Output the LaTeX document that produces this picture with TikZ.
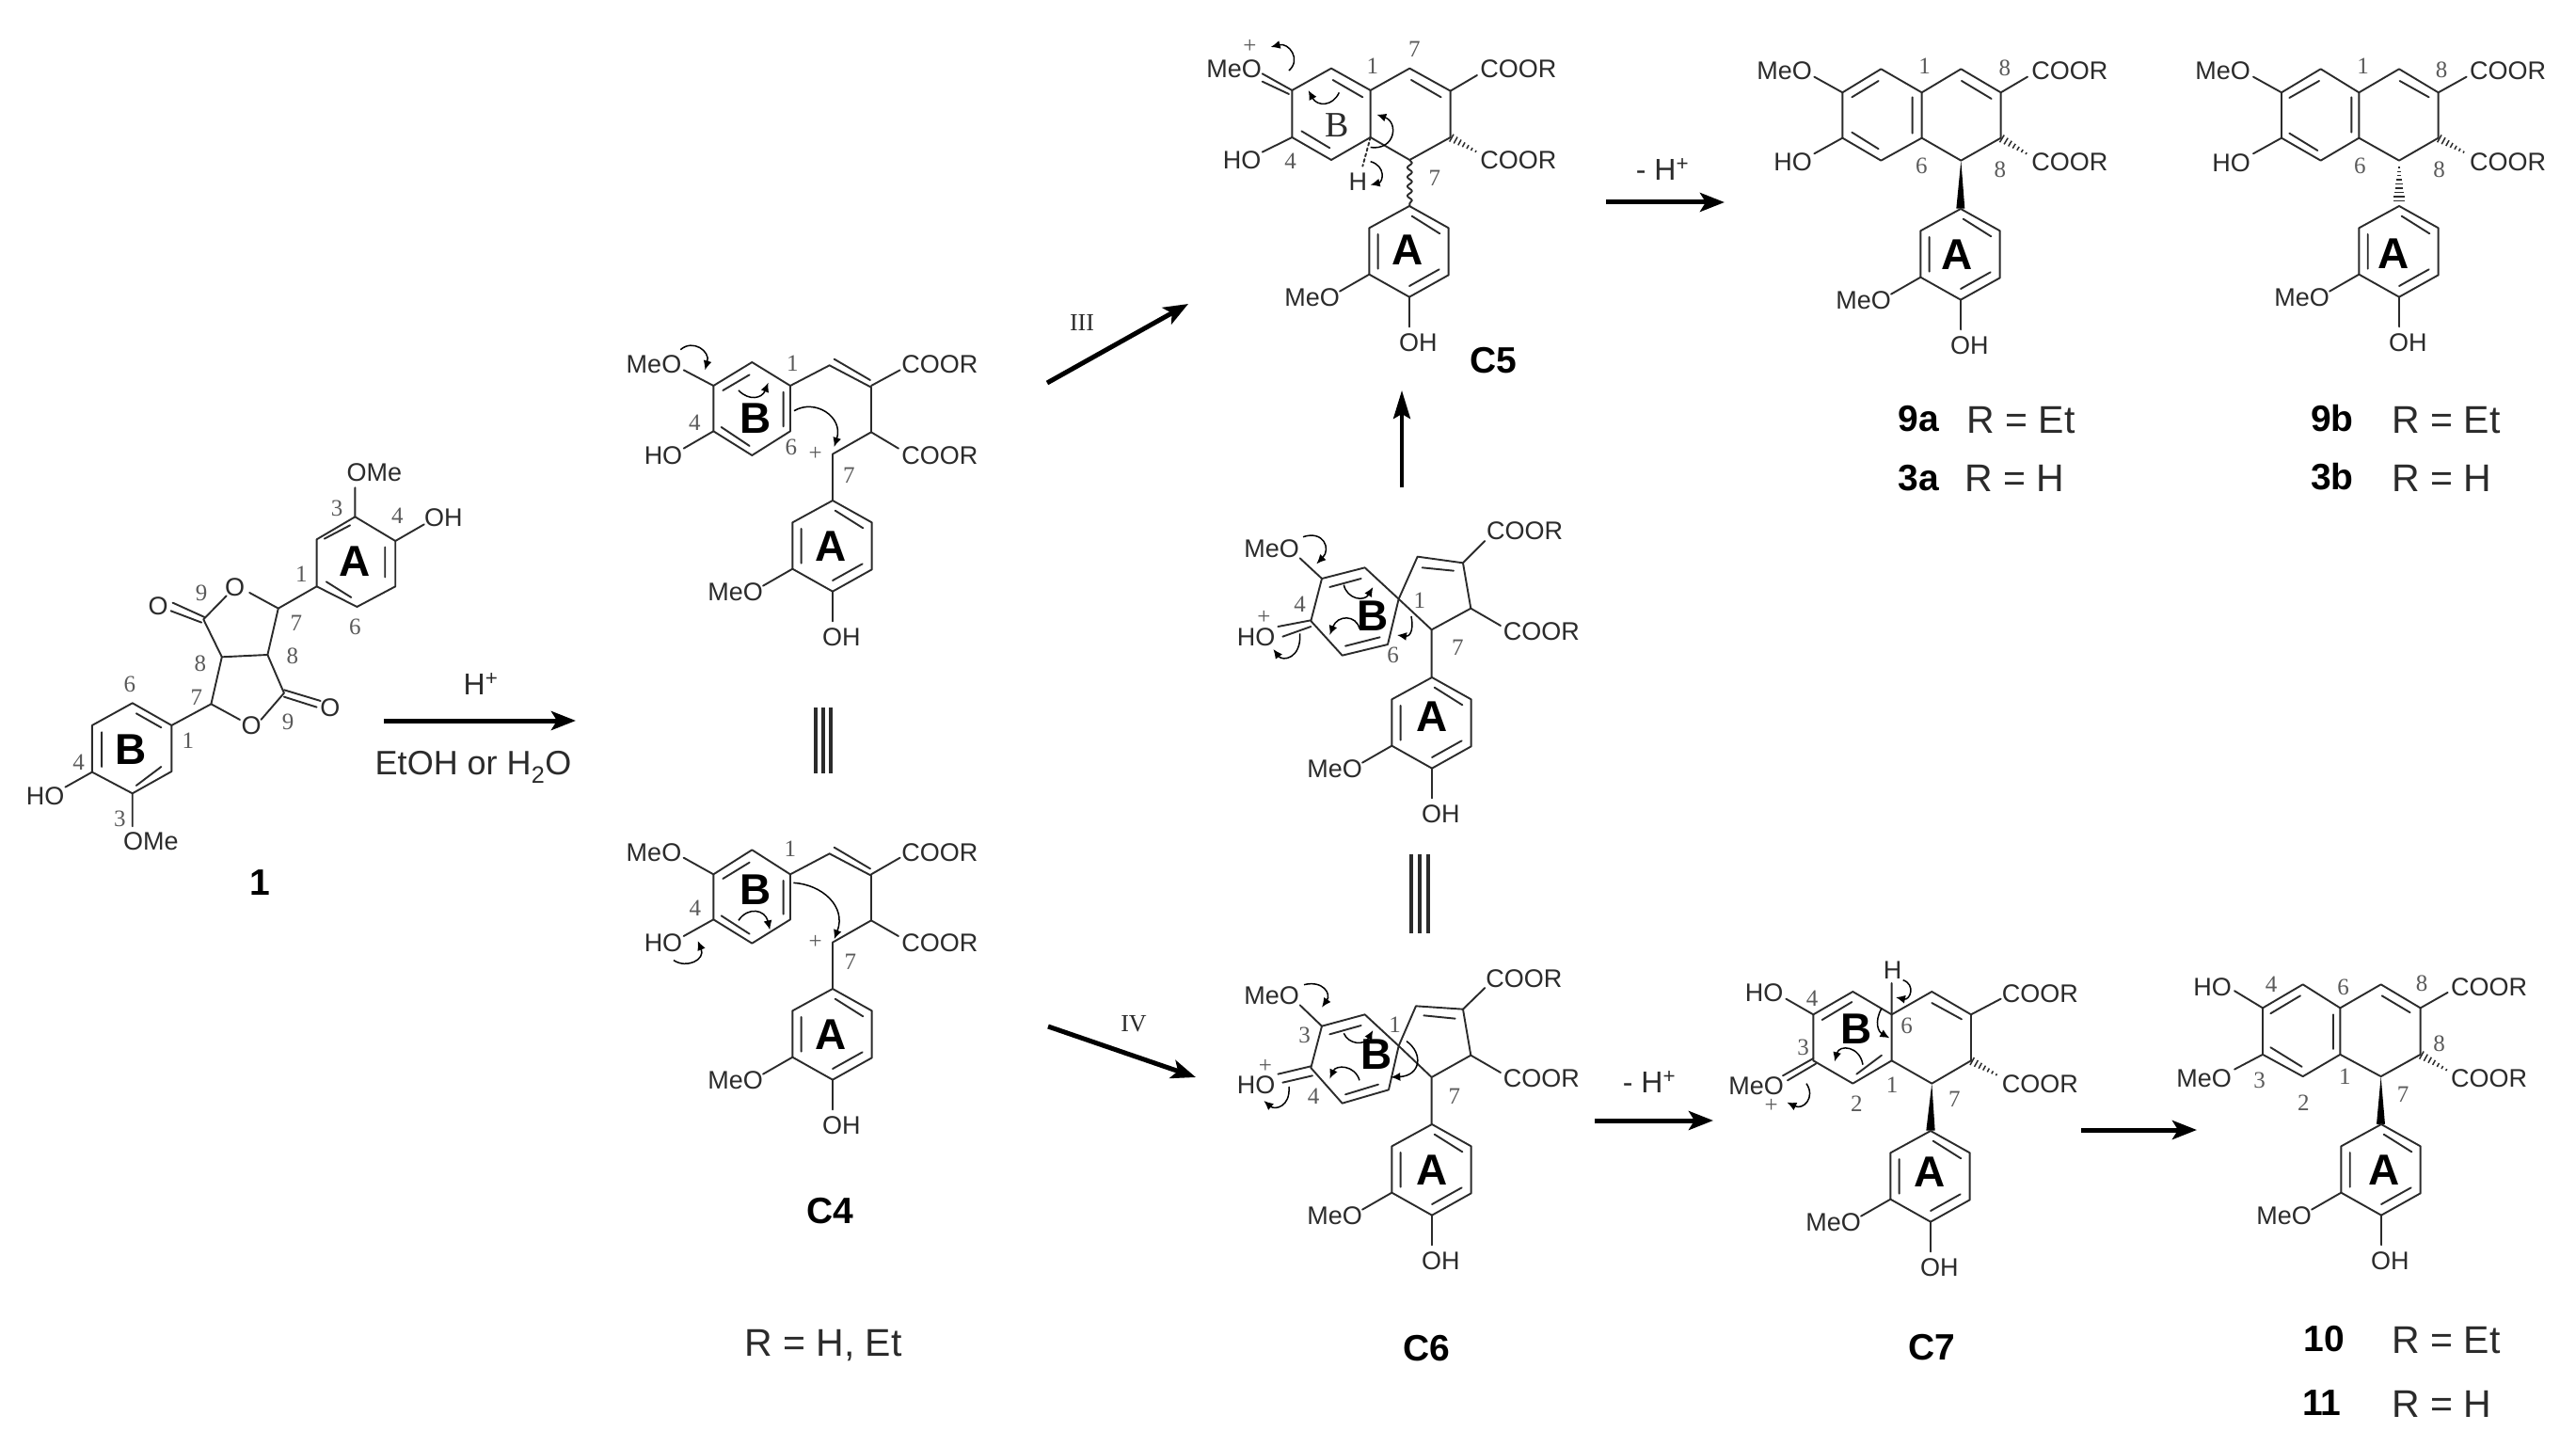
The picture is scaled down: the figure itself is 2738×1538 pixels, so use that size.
\documentclass[tikz,border=0pt]{standalone}
\usepackage{fontspec}
\setmainfont{Liberation Sans}
\newfontfamily\serifL{Liberation Serif}
\usetikzlibrary{arrows.meta,decorations.pathmorphing}
\definecolor{ink}{HTML}{2B2B2B}
\definecolor{numgray}{HTML}{5A5A5A}
\newcount\nodeidx
\tikzset{
  zm/.style n args={4}{shift={(#1,#2)},x=#3pt,y=-#4pt},
  bond/.style={draw=ink,line width=1.9pt,line cap=round,line join=round},
  hashb/.style={draw=ink,line width=1.5pt},
  curly/.style={draw=black,line width=1.5pt,-{Latex[length=10pt,width=9pt]}},
  rxn/.style={draw=black,line width=5pt,-{Stealth[length=26pt,width=20pt,inset=6pt]}},
  rxnthin/.style={draw=black,line width=4pt,-{Stealth[length=30pt,width=18pt,inset=5pt]}},
  triple/.style={draw=ink,line width=3.4pt},
  chem/.style={inner sep=0pt,text=ink,font=\fontsize{27}{27}\selectfont},
  locant/.style={inner sep=0pt,text=numgray,font=\serifL\fontsize{25}{25}\selectfont},
  ringlet/.style={inner sep=0pt,text=black,font=\bfseries\fontsize{46}{46}\selectfont},
  serifB/.style={inner sep=0pt,text=ink,font=\serifL\fontsize{38}{38}\selectfont},
  cmpd/.style={inner sep=0pt,text=black,font=\bfseries\fontsize{39}{39}\selectfont},
  rdef/.style={inner sep=0pt,text=ink,font=\fontsize{41}{41}\selectfont},
  cond/.style={inner sep=0pt,text=ink,font=\fontsize{32}{32}\selectfont},
  condwide/.style={inner sep=0pt,text=ink,font=\fontsize{36}{36}\selectfont},
  roman/.style={inner sep=0pt,text=ink,font=\serifL\fontsize{26}{26}\selectfont}
}
\newcommand{\tn}[3]{\global\advance\nodeidx by 1 \node[#1] (n\the\nodeidx) at (#2) {#3};}
\newcommand{\atm}[2]{\tn{chem}{#1}{#2}}
\newcommand{\lcn}[2]{\tn{locant}{#1}{#2}}
\newcommand{\rlet}[2]{\tn{ringlet}{#1}{#2}}
% hashed wedge: wide at the start, narrow at the end
\newcommand{\hashw}[6]{%
  \pgfmathsetmacro{\hsX}{#3-#1}\pgfmathsetmacro{\hsY}{#4-#2}\pgfmathsetmacro{\hsL}{veclen(\hsX,\hsY)}%
  \foreach \i in {1,...,#5}{%
    \pgfmathsetmacro{\hsT}{(\i-1)/#5+0.04}\pgfmathsetmacro{\hsW}{#6*(1-\hsT)+2}%
    \draw[hashb] ({#1+\hsT*\hsX-\hsW*\hsY/\hsL},{#2+\hsT*\hsY+\hsW*\hsX/\hsL}) -- ({#1+\hsT*\hsX+\hsW*\hsY/\hsL},{#2+\hsT*\hsY-\hsW*\hsX/\hsL});
  }}
\newcommand{\ringA}[4]{%
\begin{scope}[zm={#1}{#2}{0.3333}{0.3333}]
  \draw[bond] (0,0)--(125,70)--(125,220)--(0,290)--(-128,218)--(-128,70)--cycle;
  \draw[bond] (8,32)--(97,88) (0,255)--(95,202) (-100,90)--(-100,200);
  \draw[bond] (-128,218)--(-222,272) (0,290)--(0,385);
  \atm{-310,292}{MeO}
  \atm{28,437}{OH}
  \rlet{#3,#4}{A}
\end{scope}}
\begin{document}
\begin{tikzpicture}[x=1pt,y=-1pt]
\useasboundingbox (0,0) rectangle (2738,1538);
\fill[white] (0,0) rectangle (2738,1538);

% ---------- compound 1
\begin{scope}[zm={0}{450}{0.408}{0.3333}]
  \draw[bond] (925,298)--(1030,375)--(1030,520)--(930,585)--(825,520)--(825,370)--cycle;
  \draw[bond] (845,368)--(912,325) (1003,395)--(1003,490) (850,505)--(915,555);
  \draw[bond] (925,298)--(925,205) (1030,375)--(1105,322) (825,520)--(725,590);
  \draw[bond] (725,590)--(650,540) (590,550)--(530,625) (530,625)--(578,745)--(697,738)--(725,590);
  \draw[bond] (450,572)--(533,618) (445,598)--(525,635);
  \draw[bond] (578,745)--(550,895)--(625,945) (680,945)--(740,860)--(697,738);
  \draw[bond] (740,850)--(835,885) (740,872)--(825,905);
  \draw[bond] (550,895)--(447,963);
  \draw[bond] (447,963)--(345,892)--(240,963)--(240,1112)--(345,1180)--(447,1110)--cycle;
  \draw[bond] (355,925)--(420,970) (265,985)--(265,1095) (355,1155)--(420,1095);
  \draw[bond] (240,1112)--(170,1160) (345,1180)--(345,1285);
  \atm{975,158}{OMe} \atm{1155,300}{OH} \atm{612,522}{O} \atm{412,582}{O}
  \atm{655,965}{O} \atm{860,907}{O} \atm{118,1188}{HO} \atm{393,1332}{OMe}
  \rlet{925,440}{A} \rlet{340,1040}{B}
  \lcn{878,272}{3} \lcn{1035,295}{4} \lcn{785,480}{1} \lcn{925,650}{6}
  \lcn{525,540}{9} \lcn{772,637}{7} \lcn{762,742}{8} \lcn{522,765}{8}
  \lcn{512,875}{7} \lcn{750,952}{9} \lcn{338,832}{6} \lcn{490,1012}{1}
  \lcn{205,1080}{4} \lcn{312,1262}{3}
\end{scope}

% ---------- C4 upper
\begin{scope}[zm={640}{340}{0.3333}{0.3333}]
  \draw[bond] (478,135)--(600,210)--(600,355)--(478,432)--(355,355)--(355,210)--cycle;
  \draw[bond] (385,225)--(470,175) (578,230)--(578,340) (380,342)--(470,402);
  \draw[bond] (260,160)--(355,210) (260,410)--(355,355);
  \draw[bond] (600,210)--(725,145)--(858,215)--(858,358)--(735,428)--(735,575);
  \draw[bond] (740,125)--(855,192) (858,210)--(950,160) (858,358)--(945,410);
  \atm{165,143}{MeO} \atm{195,433}{HO} \atm{1077,143}{COOR} \atm{1077,432}{COOR}
  \rlet{488,315}{B}
  \lcn{295,328}{4} \lcn{607,138}{1} \lcn{603,405}{6} \lcn{680,428}{+} \lcn{787,495}{7}
  \draw[curly] (250,95) .. controls (290,60) and (345,100) .. (328,160);
  \draw[curly] (435,225) .. controls (470,260) and (510,250) .. (530,200);
  \draw[curly] (612,290) .. controls (680,250) and (770,310) .. (740,405);
\end{scope}
\ringA{885}{532}{-7}{145}

% ---------- C4 lower
\begin{scope}[zm={640}{860}{0.3333}{0.3333}]
  \draw[bond] (478,130)--(600,208)--(600,352)--(478,428)--(355,352)--(355,208)--cycle;
  \draw[bond] (385,222)--(470,170) (578,228)--(578,335) (380,340)--(470,398);
  \draw[bond] (260,155)--(355,208) (260,405)--(355,352);
  \draw[bond] (600,208)--(725,142)--(858,212)--(858,355)--(735,425)--(735,572);
  \draw[bond] (740,122)--(855,190) (858,208)--(950,155) (858,355)--(945,405);
  \atm{165,138}{MeO} \atm{195,428}{HO} \atm{1077,138}{COOR} \atm{1077,428}{COOR}
  \rlet{490,258}{B}
  \lcn{297,315}{4} \lcn{600,128}{1} \lcn{680,425}{+} \lcn{792,488}{7}
  \draw[curly] (228,482) .. controls (270,510) and (330,480) .. (305,420);
  \draw[curly] (435,355) .. controls (465,310) and (520,320) .. (535,385);
  \draw[curly] (610,235) .. controls (700,240) and (780,310) .. (740,415);
\end{scope}
\ringA{885}{1051}{-7}{145}

% ---------- C5
\begin{scope}[zm={1240}{20}{0.3333}{0.3333}]
  \draw[bond] (525,158)--(650,228)--(650,378)--(525,450)--(400,378)--(400,228)--cycle;
  \draw[bond] (530,195)--(625,250) (430,358)--(520,412);
  \draw[bond] (305,175)--(400,228) (305,200)--(390,240) (305,425)--(400,378);
  \draw[bond] (650,228)--(775,158)--(905,230)--(905,378)--(775,450)--(650,378);
  \draw[bond] (780,195)--(875,250) (905,230)--(990,180);
  \hashw{905}{378}{995}{428}{7}{12}
  \draw[bond,dashed] (650,378)--(625,470);
  \draw[bond,decorate,decoration={snake,amplitude=2.5pt,segment length=10pt}] (775,450)--(775,598);
  \atm{215,160}{MeO} \atm{240,452}{HO} \atm{1122,160}{COOR} \atm{1122,450}{COOR} \atm{610,520}{H}
  \tn{serifB}{545,340}{B}
  \lcn{265,88}{+} \lcn{657,152}{1} \lcn{790,98}{7} \lcn{395,455}{4} \lcn{855,508}{7}
  \draw[curly] (390,165) .. controls (430,130) and (390,75) .. (332,90);
  \draw[curly] (550,235) .. controls (530,280) and (480,280) .. (452,228);
  \draw[curly] (650,410) .. controls (730,420) and (740,330) .. (670,305);
  \draw[curly] (650,455) .. controls (700,470) and (690,520) .. (650,530);
\end{scope}
\ringA{1498}{219}{-5}{140}

% ---------- spiro (middle)
\begin{scope}[zm={1300}{540}{0.3333}{0.3333}]
  \draw[bond] (315,225)--(452,190)--(560,290)--(525,435)--(380,470)--(280,360)--cycle;
  \draw[bond] (340,252)--(440,225) (390,440)--(500,412);
  \draw[bond] (245,160)--(315,225) (175,378)--(280,358) (190,410)--(280,378);
  \draw[bond] (560,290)--(665,388)--(665,540) (560,290)--(620,155)--(765,175)--(790,320)--(665,388);
  \draw[bond] (635,190)--(735,200) (765,175)--(835,105) (790,320)--(885,375);
  \atm{155,130}{MeO} \atm{105,412}{HO} \atm{962,72}{COOR} \atm{1015,393}{COOR}
  \rlet{478,345}{B}
  \lcn{245,308}{4} \lcn{130,348}{+} \lcn{627,295}{1} \lcn{542,470}{6} \lcn{748,445}{7}
  \draw[curly] (255,92) .. controls (320,70) and (345,130) .. (298,178);
  \draw[curly] (385,245) .. controls (395,290) and (450,300) .. (478,252);
  \draw[curly] (245,400) .. controls (250,480) and (190,490) .. (160,450);
  \draw[curly] (435,385) .. controls (425,340) and (365,340) .. (340,405);
  \draw[curly] (600,345) .. controls (610,400) and (590,410) .. (555,405);
\end{scope}
\ringA{1522}{720}{0}{125}

% ---------- C6
\begin{scope}[zm={1300}{1000}{0.3333}{0.3333}]
  \draw[bond] (315,272)--(452,235)--(560,335)--(528,475)--(380,518)--(280,405)--cycle;
  \draw[bond] (340,298)--(440,270) (390,490)--(495,458);
  \draw[bond] (245,205)--(315,272) (175,425)--(280,400) (190,452)--(285,430);
  \draw[bond] (560,335)--(665,435)--(665,585) (560,335)--(615,208)--(765,218)--(790,365)--(665,435);
  \draw[bond] (640,238)--(740,248) (765,218)--(835,150) (790,365)--(885,420);
  \atm{155,175}{MeO} \atm{105,460}{HO} \atm{960,122}{COOR} \atm{1015,438}{COOR}
  \rlet{490,362}{B}
  \lcn{260,300}{3} \lcn{288,495}{4} \lcn{135,400}{+} \lcn{548,268}{1} \lcn{738,495}{7}
  \draw[curly] (258,140) .. controls (320,125) and (345,170) .. (315,212);
  \draw[curly] (385,295) .. controls (400,330) and (450,335) .. (478,285);
  \draw[curly] (210,465) .. controls (215,530) and (165,540) .. (130,510);
  \draw[curly] (435,445) .. controls (420,395) and (360,395) .. (340,440);
  \draw[curly] (585,320) .. controls (640,360) and (630,430) .. (535,435);
\end{scope}
\ringA{1522}{1195}{0}{145}

% ---------- C7
\begin{scope}[zm={1840}{1000}{0.3333}{0.3333}]
  \draw[bond] (388,162)--(512,235)--(512,382)--(388,455)--(262,382)--(262,235)--cycle;
  \draw[bond] (290,252)--(385,195) (400,425)--(480,365);
  \draw[bond] (175,185)--(262,235) (165,430)--(262,375) (180,445)--(270,392) (512,235)--(512,135);
  \draw[bond] (512,235)--(640,162)--(765,235)--(765,382)--(640,455)--(512,382);
  \draw[bond] (640,198)--(735,250) (765,235)--(860,185);
  \hashw{765}{382}{855}{432}{7}{12}
  \fill[black] (640,455)--(622,605)--(650,605)--cycle;
  \atm{105,165}{HO} \atm{80,462}{MeO} \atm{985,168}{COOR} \atm{985,458}{COOR} \atm{515,95}{H}
  \rlet{398,280}{B}
  \lcn{258,185}{4} \lcn{230,340}{3} \lcn{128,526}{+} \lcn{400,520}{2} \lcn{513,460}{1} \lcn{560,270}{6} \lcn{712,505}{7}
  \draw[curly] (240,455) .. controls (270,500) and (230,540) .. (178,515);
  \draw[curly] (548,125) .. controls (590,140) and (570,190) .. (525,180);
  \draw[curly] (480,215) .. controls (455,260) and (470,290) .. (505,310);
  \draw[curly] (420,395) .. controls (410,335) and (345,330) .. (330,385);
\end{scope}
\ringA{2052}{1202}{-3}{130}

% ---------- 9a
\begin{scope}[zm={1840}{20}{0.3333}{0.3333}]
  \draw[bond] (478,160)--(608,235)--(608,380)--(478,452)--(355,380)--(355,235)--cycle;
  \draw[bond] (385,250)--(470,198) (578,250)--(578,365) (385,362)--(470,415);
  \draw[bond] (265,185)--(355,235) (265,430)--(355,380);
  \draw[bond] (608,235)--(733,160)--(860,235)--(860,380)--(733,452)--(608,380);
  \draw[bond] (735,198)--(830,255) (860,235)--(945,185);
  \hashw{860}{380}{950}{435}{7}{12}
  \fill[black] (733,452)--(718,605)--(745,605)--cycle;
  \atm{170,165}{MeO} \atm{197,458}{HO} \atm{1080,165}{COOR} \atm{1080,458}{COOR}
  \lcn{617,150}{1} \lcn{873,158}{8} \lcn{607,470}{6} \lcn{858,480}{8}
\end{scope}
\ringA{2084}{222}{-13}{145}

% ---------- 9b
\begin{scope}[zm={2300}{20}{0.3333}{0.3333}]
  \draw[bond] (500,160)--(622,235)--(622,380)--(500,452)--(375,380)--(375,235)--cycle;
  \draw[bond] (400,252)--(495,198) (598,250)--(598,362) (400,365)--(490,420);
  \draw[bond] (285,185)--(375,235) (285,430)--(375,380);
  \draw[bond] (622,235)--(750,160)--(875,235)--(875,380)--(750,452)--(622,380);
  \draw[bond] (752,198)--(845,250) (875,235)--(965,185);
  \hashw{875}{380}{965}{430}{7}{12}
  \hashw{750}{585}{750}{465}{9}{18}
  \atm{188,165}{MeO} \atm{215,460}{HO} \atm{1097,165}{COOR} \atm{1097,458}{COOR}
  \lcn{635,150}{1} \lcn{885,162}{8} \lcn{625,470}{6} \lcn{878,482}{8}
\end{scope}
\ringA{2550}{219}{-17}{152}

% ---------- 10 / 11
\begin{scope}[zm={2280}{1000}{0.3333}{0.3432}]
  \draw[bond] (503,135)--(622,208)--(622,352)--(503,420)--(375,352)--(375,208)--cycle;
  \draw[bond] (400,225)--(495,170) (600,228)--(600,335) (400,330)--(500,390);
  \draw[bond] (285,155)--(375,208) (285,398)--(375,352);
  \draw[bond] (622,208)--(752,135)--(878,208)--(878,352)--(752,420)--(622,352);
  \draw[bond] (755,170)--(845,222) (878,208)--(965,160);
  \hashw{878}{352}{970}{405}{7}{12}
  \fill[black] (752,420)--(738,568)--(765,568)--cycle;
  \atm{215,142}{HO} \atm{188,425}{MeO} \atm{1097,142}{COOR} \atm{1097,425}{COOR}
  \lcn{402,135}{4} \lcn{632,143}{6} \lcn{882,132}{8} \lcn{938,318}{8}
  \lcn{365,432}{3} \lcn{637,420}{1} \lcn{505,503}{2} \lcn{822,475}{7}
\end{scope}
\ringA{2531}{1195}{8}{145}

% ---------- reaction arrows
\coordinate (r1s) at (408,766);  \coordinate (r1e) at (612,766);
\coordinate (r2s) at (1113,407); \coordinate (r2e) at (1263,323);
\coordinate (r3s) at (1114,1091);\coordinate (r3e) at (1271,1145);
\coordinate (r4s) at (1490,518); \coordinate (r4e) at (1490,415);
\coordinate (r5s) at (1707,215); \coordinate (r5e) at (1833,215);
\coordinate (r6s) at (1695,1191);\coordinate (r6e) at (1821,1191);
\coordinate (r7s) at (2212,1201);\coordinate (r7e) at (2335,1201);
\draw[rxn] (r1s) -- (r1e);
\draw[rxn] (r2s) -- (r2e);
\draw[rxn] (r3s) -- (r3e);
\draw[rxnthin] (r4s) -- (r4e);
\draw[rxn] (r5s) -- (r5e);
\draw[rxn] (r6s) -- (r6e);
\draw[rxn] (r7s) -- (r7e);

% ---------- resonance marks
\draw[triple] (867,752)--(867,822) (875,752)--(875,822) (883,752)--(883,822);
\draw[triple] (1500,908)--(1500,992) (1509,908)--(1509,992) (1518,908)--(1518,992);

% ---------- arrow labels
\tn{cond}{511,727}{H\textsuperscript{+}}
\tn{condwide}{503,815}{EtOH or H\textsubscript{2}O}
\tn{roman}{1150,343}{III}
\tn{roman}{1205,1088}{IV}
\tn{cond}{1767,180}{- H\textsuperscript{+}}
\tn{cond}{1753,1150}{- H\textsuperscript{+}}

% ---------- compound labels
\tn{cmpd}{276,938}{1}
\tn{cmpd}{882,1287}{C4}
\tn{cmpd}{1587,383}{C5}
\tn{cmpd}{1516,1433}{C6}
\tn{cmpd}{2053,1432}{C7}
\tn{rdef}{875,1430}{R = H, Et}
\tn{cmpd}{2039,445}{9a} \tn{rdef}{2148,447}{R = Et}
\tn{cmpd}{2039,508}{3a} \tn{rdef}{2141,508}{R = H}
\tn{cmpd}{2479,445}{9b} \tn{rdef}{2600,447}{R = Et}
\tn{cmpd}{2479,507}{3b} \tn{rdef}{2595,508}{R = H}
\tn{cmpd}{2470,1423}{10} \tn{rdef}{2600,1425}{R = Et}
\tn{cmpd}{2468,1491}{11} \tn{rdef}{2595,1492}{R = H}
\end{tikzpicture}
\end{document}
